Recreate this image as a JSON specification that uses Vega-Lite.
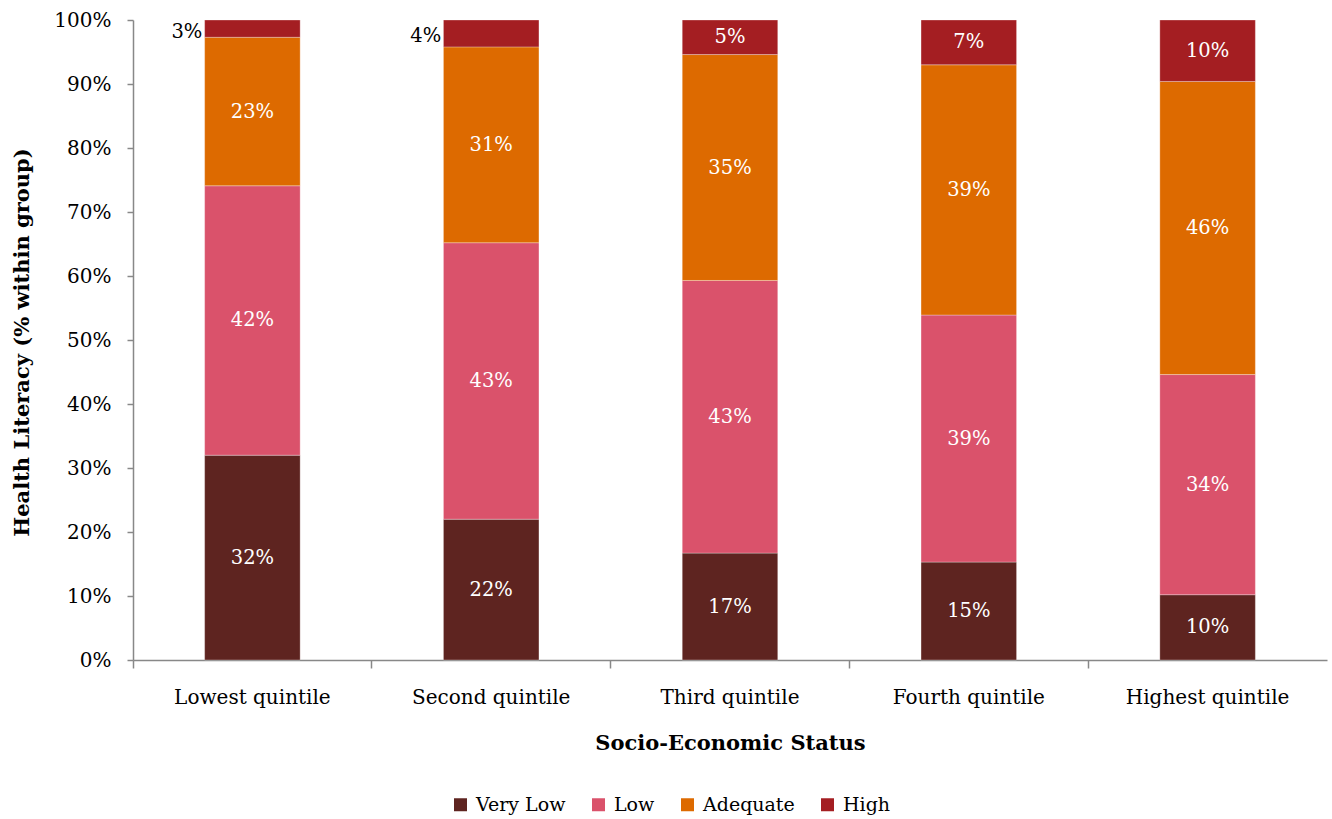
{
  "$schema": "https://vega.github.io/schema/vega-lite/v6.json",
  "width": 1194,
  "height": 640,
  "autosize": {"type": "none"},
  "padding": {"left": 133, "top": 20, "right": 5, "bottom": 159},
  "background": "white",
  "config": {"font": "DejaVu Serif", "view": {"stroke": null}},
  "data": {
    "values": [
      {"ses": "Lowest quintile", "level": "Very Low", "pct": 0.320},
      {"ses": "Lowest quintile", "level": "Low", "pct": 0.421},
      {"ses": "Lowest quintile", "level": "Adequate", "pct": 0.232},
      {"ses": "Lowest quintile", "level": "High", "pct": 0.027},
      {"ses": "Second quintile", "level": "Very Low", "pct": 0.220},
      {"ses": "Second quintile", "level": "Low", "pct": 0.432},
      {"ses": "Second quintile", "level": "Adequate", "pct": 0.306},
      {"ses": "Second quintile", "level": "High", "pct": 0.042},
      {"ses": "Third quintile", "level": "Very Low", "pct": 0.167},
      {"ses": "Third quintile", "level": "Low", "pct": 0.426},
      {"ses": "Third quintile", "level": "Adequate", "pct": 0.353},
      {"ses": "Third quintile", "level": "High", "pct": 0.054},
      {"ses": "Fourth quintile", "level": "Very Low", "pct": 0.153},
      {"ses": "Fourth quintile", "level": "Low", "pct": 0.386},
      {"ses": "Fourth quintile", "level": "Adequate", "pct": 0.391},
      {"ses": "Fourth quintile", "level": "High", "pct": 0.070},
      {"ses": "Highest quintile", "level": "Very Low", "pct": 0.102},
      {"ses": "Highest quintile", "level": "Low", "pct": 0.344},
      {"ses": "Highest quintile", "level": "Adequate", "pct": 0.458},
      {"ses": "Highest quintile", "level": "High", "pct": 0.096}
    ]
  },
  "transform": [
    {"calculate": "indexof(['Very Low','Low','Adequate','High'], datum.level)", "as": "rank"},
    {"stack": "pct", "groupby": ["ses"], "sort": [{"field": "rank", "order": "ascending"}], "as": ["y0", "y1"]},
    {"calculate": "(datum.y0 + datum.y1) / 2", "as": "ymid"}
  ],
  "encoding": {
    "x": {
      "field": "ses",
      "type": "nominal",
      "sort": ["Lowest quintile", "Second quintile", "Third quintile", "Fourth quintile", "Highest quintile"],
      "scale": {"paddingInner": 0, "paddingOuter": 0},
      "axis": {
        "title": "Socio-Economic Status",
        "titleFontSize": 21,
        "titleFontWeight": "bold",
        "titleColor": "black",
        "titleBaseline": "middle",
        "titleY": 83,
        "labelAngle": 0,
        "labelFontSize": 20,
        "labelColor": "black",
        "labelPadding": 29,
        "labelBaseline": "middle",
        "tickSize": 8,
        "tickColor": "#888888",
        "tickWidth": 1.5,
        "domainColor": "#888888",
        "domainWidth": 1.5,
        "bandPosition": 0
      }
    }
  },
  "layer": [
    {
      "mark": {"type": "bar", "width": {"band": 0.4}, "stroke": "white", "strokeWidth": 0.6, "strokeOpacity": 0.5},
      "encoding": {
        "y": {
          "field": "y0",
          "type": "quantitative",
          "scale": {"domain": [0, 1]},
          "axis": {
            "title": "Health Literacy (% within group)",
            "titleFontSize": 21,
            "titleFontWeight": "bold",
            "titleColor": "black",
            "titleX": -111,
            "titleY": 322,
            "titleAlign": "center",
            "titleBaseline": "middle",
            "format": ".0%",
            "values": [0, 0.1, 0.2, 0.3, 0.4, 0.5, 0.6, 0.7, 0.8, 0.9, 1],
            "labelFontSize": 20,
            "labelColor": "black",
            "labelPadding": 16,
            "tickSize": 6,
            "tickColor": "#888888",
            "tickWidth": 1.5,
            "domainColor": "#888888",
            "domainWidth": 1.5,
            "grid": false
          }
        },
        "y2": {"field": "y1"},
        "color": {
          "field": "level",
          "type": "nominal",
          "scale": {
            "domain": ["Very Low", "Low", "Adequate", "High"],
            "range": ["#5E2420", "#DA526B", "#DD6A00", "#A41E22"]
          },
          "legend": {
            "title": null,
            "orient": "none",
            "direction": "horizontal",
            "legendX": 318,
            "legendY": 775,
            "symbolType": "square",
            "symbolSize": 169,
            "symbolStrokeWidth": 0,
            "symbolOpacity": 1,
            "labelFontSize": 19,
            "labelColor": "black",
            "labelOffset": 6,
            "columnPadding": 23
          }
        }
      }
    },
    {
      "transform": [{"filter": "datum.pct >= 0.045"}],
      "mark": {"type": "text", "color": "white", "fontSize": 19.5, "baseline": "middle"},
      "encoding": {
        "y": {"field": "ymid", "type": "quantitative"},
        "text": {"field": "pct", "type": "quantitative", "format": ".0%"}
      }
    },
    {
      "transform": [{"filter": "datum.pct < 0.045"}],
      "mark": {"type": "text", "color": "black", "fontSize": 19.5, "baseline": "middle", "align": "right", "dx": -50, "dy": 3},
      "encoding": {
        "y": {"field": "ymid", "type": "quantitative"},
        "text": {"field": "pct", "type": "quantitative", "format": ".0%"}
      }
    }
  ]
}
